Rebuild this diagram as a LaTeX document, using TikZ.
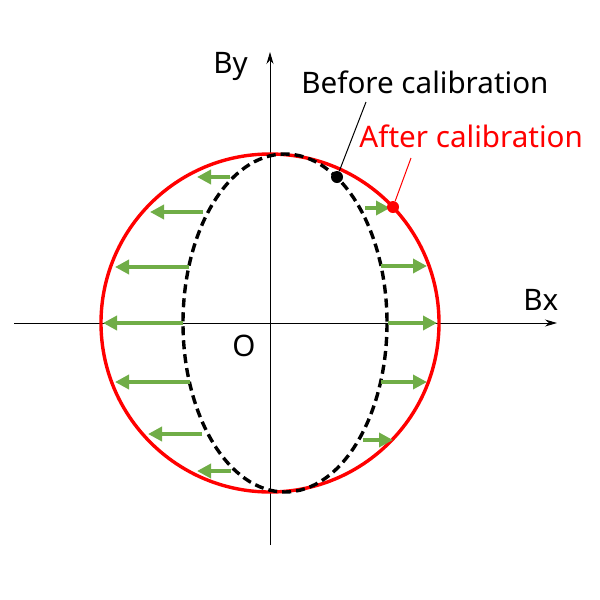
\documentclass[tikz,border=0pt]{standalone}
\usepackage{fontspec}
\setmainfont{Noto Sans}
\usetikzlibrary{arrows.meta}
\definecolor{corrgreen}{RGB}{112,173,71}
\tikzset{
  axisline/.style={line width=0.5pt,-{Stealth[length=6pt,width=3.5pt]}},
  corr/.style={corrgreen,line width=2.4pt,-{Triangle[length=7pt,width=7pt]}},
  lbl/.style={font=\fontsize{14.8}{17}\selectfont,inner sep=0pt},
  dot/.style={circle,inner sep=0pt,minimum size=#1},
}
\begin{document}
\begin{tikzpicture}[x=0.5pt,y=-0.5pt]
\useasboundingbox (0,0) rectangle (600,600);
\coordinate (O) at (270,323);
\draw[axisline] (14,323) -- (557,323);
\draw[axisline] (270,545) -- (270,52);
\node[lbl,anchor=base west] (bx) at (523,310) {Bx};
\node[lbl,anchor=base west] (by) at (213,73) {By};
\node[lbl,anchor=north west] (o) at (232,335) {O};

\draw[red,line width=1.7pt] (O) circle (169);
\draw[dash pattern=on 4.5pt off 2.5pt,line width=1.7pt] (285,323) ellipse (102 and 169);

\foreach\y/\a/\b in {177/230/197,212/203/150,267/189/115,323/183/103,382/190/115,434/202/148,471/231/197}{
  \draw[corr] (\a,\y) -- (\b,\y);
}
\foreach\y/\a/\b in {208/365/390,266/381/427,323/388/437,382/381/427,440/363/393}{
  \draw[corr] (\a,\y) -- (\b,\y);
}

\node[dot=6pt,fill=black] (bdot) at (337,177) {};
\node[dot=6pt,fill=red] (adot) at (393,207) {};
\node[lbl,anchor=base west] (before) at (301,93) {Before calibration};
\node[lbl,red,anchor=base west] (after) at (359,147) {After calibration};
\coordinate (bfoot) at (366,102);
\coordinate (afoot) at (411,158);
\draw[line width=0.5pt] (bdot) -- (bfoot);
\draw[red,line width=0.5pt] (adot) -- (afoot);

\end{tikzpicture}
\end{document}
